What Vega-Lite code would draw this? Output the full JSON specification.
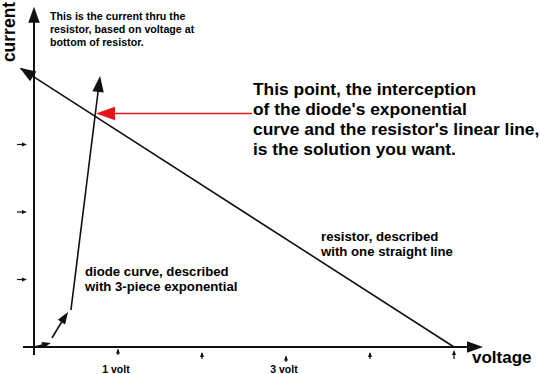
{
  "$schema": "https://vega.github.io/schema/vega-lite/v6.json",
  "width": 540,
  "height": 374,
  "padding": 0,
  "autosize": {"type": "none"},
  "background": "white",
  "config": {"view": {"stroke": null}, "axis": {"domain": false}},
  "datasets": {
    "segs": [
      {"part": "axis", "v1": 0, "c1": -0.12, "v2": 0, "c2": 4.88},
      {"part": "axis", "v1": -0.131, "c1": 0, "v2": 5.2, "c2": 0},
      {"part": "resistor", "v1": -0.16, "c1": 4.128, "v2": 5.0, "c2": 0},
      {"part": "diode", "v1": 0, "c1": 0, "v2": 0.155, "c2": 0.044},
      {"part": "diode", "v1": 0.214, "c1": 0.133, "v2": 0.357, "c2": 0.43},
      {"part": "diode", "v1": 0.44, "c1": 0.548, "v2": 0.774, "c2": 3.896},
      {"part": "pointer", "v1": 2.595, "c1": 3.459, "v2": 0.905, "c2": 3.459},
      {"part": "tick", "v1": -0.202, "c1": 1, "v2": -0.12, "c2": 1},
      {"part": "tick", "v1": -0.202, "c1": 2, "v2": -0.12, "c2": 2},
      {"part": "tick", "v1": -0.202, "c1": 3, "v2": -0.12, "c2": 3},
      {"part": "tick", "v1": 1, "c1": -0.119, "v2": 1, "c2": -0.04},
      {"part": "tick", "v1": 2, "c1": -0.178, "v2": 2, "c2": -0.09},
      {"part": "tick", "v1": 3, "c1": -0.222, "v2": 3, "c2": -0.14},
      {"part": "tick", "v1": 4, "c1": -0.178, "v2": 4, "c2": -0.09},
      {"part": "tick", "v1": 5, "c1": -0.178, "v2": 5, "c2": -0.065}
    ],
    "heads": [
      {"head": "big", "v": 0, "c": 5.04, "dir": 0},
      {"head": "big", "v": 5.345, "c": 0, "dir": 90},
      {"head": "big", "v": -0.17, "c": 4.136, "dir": 302.7},
      {"head": "big", "v": 0.786, "c": 4.015, "dir": 7},
      {"head": "mid", "v": 0.405, "c": 0.519, "dir": 33},
      {"head": "small", "v": 0.202, "c": 0.059, "dir": 76},
      {"head": "red", "v": 0.738, "c": 3.459, "dir": 270},
      {"head": "tick", "v": -0.083, "c": 1, "dir": 90},
      {"head": "tick", "v": -0.083, "c": 2, "dir": 90},
      {"head": "tick", "v": -0.083, "c": 3, "dir": 90},
      {"head": "tick", "v": 1, "c": -0.022, "dir": 0},
      {"head": "tick", "v": 2, "c": -0.074, "dir": 0},
      {"head": "tick", "v": 3, "c": -0.126, "dir": 0},
      {"head": "tick", "v": 4, "c": -0.074, "dir": 0},
      {"head": "tick", "v": 5, "c": -0.045, "dir": 0}
    ],
    "labels": [
      {"kind": "ylabel", "v": -0.232, "c": 4.667, "label": "current"},
      {"kind": "note", "v": 0.19, "c": 4.844, "label": ["This is the current thru the", "resistor, based on voltage at", "bottom of resistor."]},
      {"kind": "callout", "v": 2.607, "c": 3.733, "label": ["This point, the interception", "of the diode's exponential", "curve and the resistor's linear line,", "is the solution you want."]},
      {"kind": "desc", "v": 3.417, "c": 1.563, "label": ["resistor, described", "with one straight line"]},
      {"kind": "desc", "v": 0.607, "c": 1.052, "label": ["diode curve, described", "with 3-piece exponential"]},
      {"kind": "xlabel", "v": 5.214, "c": -0.237, "label": "voltage"},
      {"kind": "volt", "v": 0.976, "c": -0.39, "label": "1 volt"},
      {"kind": "volt", "v": 2.976, "c": -0.39, "label": "3 volt"}
    ]
  },
  "encoding": {
    "x": {"field": "v", "type": "quantitative", "axis": null, "scale": {"domain": [-0.40476, 6.0238], "nice": false, "zero": false}},
    "y": {"field": "c", "type": "quantitative", "axis": null, "scale": {"domain": [-0.4, 5.1407], "nice": false, "zero": false}}
  },
  "layer": [
    {
      "data": {"name": "segs"},
      "transform": [{"filter": {"field": "part", "equal": "axis"}}],
      "mark": {"type": "rule", "color": "#111111", "strokeWidth": 2},
      "encoding": {
        "x": {"field": "v1", "type": "quantitative"},
        "y": {"field": "c1", "type": "quantitative"},
        "x2": {"field": "v2"},
        "y2": {"field": "c2"}
      }
    },
    {
      "data": {"name": "segs"},
      "transform": [{"filter": {"field": "part", "oneOf": ["resistor", "diode"]}}],
      "mark": {"type": "rule", "color": "#111111", "strokeWidth": 1.6},
      "encoding": {
        "x": {"field": "v1", "type": "quantitative"},
        "y": {"field": "c1", "type": "quantitative"},
        "x2": {"field": "v2"},
        "y2": {"field": "c2"}
      }
    },
    {
      "data": {"name": "segs"},
      "transform": [{"filter": {"field": "part", "equal": "pointer"}}],
      "mark": {"type": "rule", "color": "#e3151a", "strokeWidth": 1.6},
      "encoding": {
        "x": {"field": "v1", "type": "quantitative"},
        "y": {"field": "c1", "type": "quantitative"},
        "x2": {"field": "v2"},
        "y2": {"field": "c2"}
      }
    },
    {
      "data": {"name": "segs"},
      "transform": [{"filter": {"field": "part", "equal": "tick"}}],
      "mark": {"type": "rule", "color": "#111111", "strokeWidth": 1.2},
      "encoding": {
        "x": {"field": "v1", "type": "quantitative"},
        "y": {"field": "c1", "type": "quantitative"},
        "x2": {"field": "v2"},
        "y2": {"field": "c2"}
      }
    },
    {
      "data": {"name": "heads"},
      "transform": [{"filter": {"field": "head", "equal": "big"}}],
      "mark": {"type": "point", "shape": "M0,0L-0.72,2L0.72,2Z", "filled": true, "opacity": 1, "color": "#111111", "size": 256},
      "encoding": {"angle": {"field": "dir", "type": "quantitative", "scale": null}}
    },
    {
      "data": {"name": "heads"},
      "transform": [{"filter": {"field": "head", "equal": "red"}}],
      "mark": {"type": "point", "shape": "M0,0L-0.72,2L0.72,2Z", "filled": true, "opacity": 1, "color": "#e3151a", "size": 361},
      "encoding": {"angle": {"field": "dir", "type": "quantitative", "scale": null}}
    },
    {
      "data": {"name": "heads"},
      "transform": [{"filter": {"field": "head", "equal": "mid"}}],
      "mark": {"type": "point", "shape": "M0,0L-0.72,2L0.72,2Z", "filled": true, "opacity": 1, "color": "#111111", "size": 144},
      "encoding": {"angle": {"field": "dir", "type": "quantitative", "scale": null}}
    },
    {
      "data": {"name": "heads"},
      "transform": [{"filter": {"field": "head", "equal": "small"}}],
      "mark": {"type": "point", "shape": "M0,0L-0.72,2L0.72,2Z", "filled": true, "opacity": 1, "color": "#111111", "size": 81},
      "encoding": {"angle": {"field": "dir", "type": "quantitative", "scale": null}}
    },
    {
      "data": {"name": "heads"},
      "transform": [{"filter": {"field": "head", "equal": "tick"}}],
      "mark": {"type": "point", "shape": "M0,0L-0.8,2L0.8,2Z", "filled": true, "opacity": 1, "color": "#111111", "size": 25},
      "encoding": {"angle": {"field": "dir", "type": "quantitative", "scale": null}}
    },
    {
      "data": {"name": "labels"},
      "transform": [{"filter": {"field": "kind", "equal": "ylabel"}}],
      "mark": {"type": "text", "font": "Liberation Sans", "fontWeight": "bold", "fontSize": 17.5, "angle": 270, "align": "center", "baseline": "alphabetic", "color": "#000000"},
      "encoding": {"text": {"field": "label", "type": "nominal"}}
    },
    {
      "data": {"name": "labels"},
      "transform": [{"filter": {"field": "kind", "equal": "note"}}],
      "mark": {"type": "text", "font": "Liberation Sans", "fontWeight": "bold", "fontSize": 10.7, "lineHeight": 13.2, "align": "left", "baseline": "alphabetic", "color": "#000000"},
      "encoding": {"text": {"field": "label", "type": "nominal"}}
    },
    {
      "data": {"name": "labels"},
      "transform": [{"filter": {"field": "kind", "equal": "callout"}}],
      "mark": {"type": "text", "font": "Liberation Sans", "fontWeight": "bold", "fontSize": 17.4, "lineHeight": 20, "align": "left", "baseline": "alphabetic", "color": "#000000"},
      "encoding": {"text": {"field": "label", "type": "nominal"}}
    },
    {
      "data": {"name": "labels"},
      "transform": [{"filter": {"field": "kind", "equal": "desc"}}],
      "mark": {"type": "text", "font": "Liberation Sans", "fontWeight": "bold", "fontSize": 13.2, "lineHeight": 15, "align": "left", "baseline": "alphabetic", "color": "#000000"},
      "encoding": {"text": {"field": "label", "type": "nominal"}}
    },
    {
      "data": {"name": "labels"},
      "transform": [{"filter": {"field": "kind", "equal": "xlabel"}}],
      "mark": {"type": "text", "font": "Liberation Sans", "fontWeight": "bold", "fontSize": 17, "align": "left", "baseline": "alphabetic", "color": "#000000"},
      "encoding": {"text": {"field": "label", "type": "nominal"}}
    },
    {
      "data": {"name": "labels"},
      "transform": [{"filter": {"field": "kind", "equal": "volt"}}],
      "mark": {"type": "text", "font": "Liberation Sans", "fontWeight": "bold", "fontSize": 10.5, "align": "center", "baseline": "alphabetic", "color": "#000000"},
      "encoding": {"text": {"field": "label", "type": "nominal"}}
    }
  ]
}
